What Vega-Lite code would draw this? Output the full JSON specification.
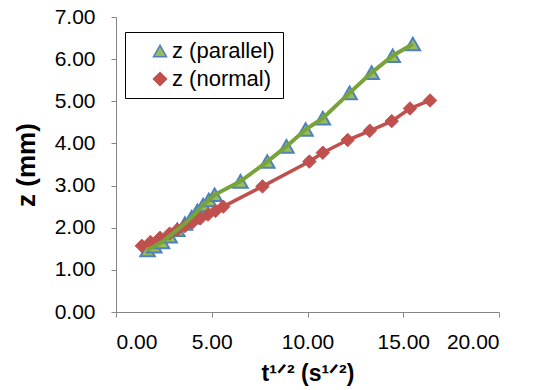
{
  "$schema": "https://vega.github.io/schema/vega-lite/v6.json",
  "width": 383,
  "height": 295,
  "autosize": {"type": "none"},
  "padding": {"left": 116, "top": 17, "right": 39, "bottom": 78},
  "background": "white",
  "config": {
    "view": {"stroke": null},
    "font": "Liberation Sans",
    "axis": {"grid": false, "domainColor": "#868686", "tickColor": "#868686", "labelColor": "#000000", "titleColor": "#000000", "labelFont": "Liberation Sans", "titleFont": "Liberation Sans"},
    "legend": {"orient": "none", "legendX": 9, "legendY": 15, "title": null, "labelFontSize": 22, "labelFont": "Liberation Sans", "labelColor": "#000000", "symbolSize": 170, "symbolStrokeWidth": 1.5, "symbolOpacity": 1, "rowPadding": 6, "padding": 8, "strokeColor": "#000000", "fillColor": "white", "labelOffset": 1, "symbolOffset": 16, "offset": 0}
  },
  "data": {
    "values": [
      {"series": "z (parallel)", "t": 1.65, "z": 1.47},
      {"series": "z (parallel)", "t": 2.0, "z": 1.56},
      {"series": "z (parallel)", "t": 2.4, "z": 1.66},
      {"series": "z (parallel)", "t": 2.8, "z": 1.8},
      {"series": "z (parallel)", "t": 3.2, "z": 1.95},
      {"series": "z (parallel)", "t": 3.6, "z": 2.1},
      {"series": "z (parallel)", "t": 3.95, "z": 2.25},
      {"series": "z (parallel)", "t": 4.25, "z": 2.4},
      {"series": "z (parallel)", "t": 4.55, "z": 2.54},
      {"series": "z (parallel)", "t": 4.85, "z": 2.66},
      {"series": "z (parallel)", "t": 5.15, "z": 2.78},
      {"series": "z (parallel)", "t": 6.5, "z": 3.1},
      {"series": "z (parallel)", "t": 7.9, "z": 3.57},
      {"series": "z (parallel)", "t": 8.9, "z": 3.93},
      {"series": "z (parallel)", "t": 9.9, "z": 4.33},
      {"series": "z (parallel)", "t": 10.8, "z": 4.6},
      {"series": "z (parallel)", "t": 12.2, "z": 5.2},
      {"series": "z (parallel)", "t": 13.35, "z": 5.68},
      {"series": "z (parallel)", "t": 14.45, "z": 6.08},
      {"series": "z (parallel)", "t": 15.5, "z": 6.36},
      {"series": "z (normal)", "t": 1.35, "z": 1.57},
      {"series": "z (normal)", "t": 1.8, "z": 1.66},
      {"series": "z (normal)", "t": 2.3, "z": 1.76},
      {"series": "z (normal)", "t": 2.8, "z": 1.86},
      {"series": "z (normal)", "t": 3.2, "z": 1.95},
      {"series": "z (normal)", "t": 3.6, "z": 2.04},
      {"series": "z (normal)", "t": 4.0, "z": 2.13},
      {"series": "z (normal)", "t": 4.4, "z": 2.22},
      {"series": "z (normal)", "t": 4.8, "z": 2.31},
      {"series": "z (normal)", "t": 5.2, "z": 2.4},
      {"series": "z (normal)", "t": 5.6, "z": 2.5},
      {"series": "z (normal)", "t": 7.65, "z": 2.98},
      {"series": "z (normal)", "t": 10.1, "z": 3.57},
      {"series": "z (normal)", "t": 10.8, "z": 3.78},
      {"series": "z (normal)", "t": 12.1, "z": 4.08},
      {"series": "z (normal)", "t": 13.25, "z": 4.3},
      {"series": "z (normal)", "t": 14.4, "z": 4.53},
      {"series": "z (normal)", "t": 15.35, "z": 4.83},
      {"series": "z (normal)", "t": 16.4, "z": 5.02}
    ]
  },
  "encoding": {
    "x": {
      "field": "t", "type": "quantitative",
      "scale": {"domain": [0, 20], "nice": false, "zero": false},
      "axis": {"values": [0, 5, 10, 15, 20], "format": ".2f", "labelFontSize": 21, "labelPadding": 14, "tickSize": 5, "title": "t¹ᐟ² (s¹ᐟ²)", "titleFontSize": 23, "titleFontWeight": "bold", "titlePadding": 10}
    },
    "y": {
      "field": "z", "type": "quantitative",
      "scale": {"domain": [0, 7], "nice": false, "zero": false},
      "axis": {"values": [0, 1, 2, 3, 4, 5, 6, 7], "format": ".2f", "labelFontSize": 21, "labelPadding": 16, "tickSize": 5, "title": "z (mm)", "titleFontSize": 26, "titleFontWeight": "bold", "titlePadding": 15}
    }
  },
  "layer": [
    {
      "transform": [{"filter": "datum.series === 'z (parallel)'"}],
      "mark": {"type": "point", "filled": true, "strokeWidth": 2, "opacity": 1, "size": 210},
      "encoding": {
        "shape": {"field": "series", "type": "nominal", "scale": {"domain": ["z (parallel)", "z (normal)"], "range": ["triangle-up", "diamond"]}},
        "fill": {"field": "series", "type": "nominal", "scale": {"domain": ["z (parallel)", "z (normal)"], "range": ["#9BBB59", "#C0504D"]}},
        "stroke": {"field": "series", "type": "nominal", "scale": {"domain": ["z (parallel)", "z (normal)"], "range": ["#4F81BD", "#C0504D"]}}
      }
    },
    {
      "transform": [{"filter": "datum.series === 'z (normal)'"}],
      "mark": {"type": "line", "color": "#C0504D", "strokeWidth": 3.5},
      "encoding": {}
    },
    {
      "transform": [{"filter": "datum.series === 'z (normal)'"}],
      "mark": {"type": "point", "filled": true, "strokeWidth": 1, "opacity": 1, "size": 180},
      "encoding": {
        "shape": {"field": "series", "type": "nominal"},
        "fill": {"field": "series", "type": "nominal"},
        "stroke": {"field": "series", "type": "nominal"}
      }
    },
    {
      "transform": [{"filter": "datum.series === 'z (parallel)'"}],
      "mark": {"type": "line", "color": "#77A33A", "strokeWidth": 4},
      "encoding": {}
    }
  ]
}
